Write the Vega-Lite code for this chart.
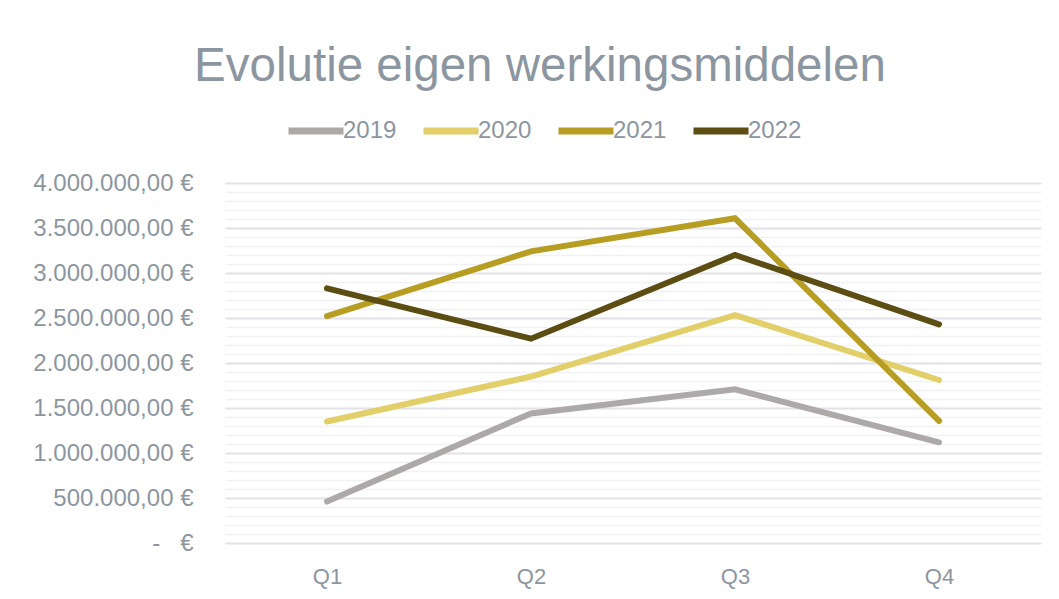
{
  "$schema": "https://vega.github.io/schema/vega-lite/v6.json",
  "width": 816,
  "height": 360,
  "autosize": "none",
  "padding": {"left": 225, "top": 183, "right": 18, "bottom": 56},
  "background": "white",
  "config": {
    "locale": {"number": {"decimal": ",", "thousands": ".", "grouping": [3], "currency": ["", " €"]}},
    "view": {"stroke": null},
    "font": "Liberation Sans"
  },
  "title": {
    "text": "Evolutie eigen werkingsmiddelen",
    "fontSize": 47.5,
    "font": "Liberation Sans",
    "fontWeight": "normal",
    "color": "#8C96A1",
    "anchor": "middle",
    "frame": "group",
    "dx": -93,
    "offset": 10
  },
  "data": {
    "values": [
      {"kwartaal": "Q1", "jaar": "2019", "bedrag": 460000},
      {"kwartaal": "Q2", "jaar": "2019", "bedrag": 1440000},
      {"kwartaal": "Q3", "jaar": "2019", "bedrag": 1708000},
      {"kwartaal": "Q4", "jaar": "2019", "bedrag": 1119000},
      {"kwartaal": "Q1", "jaar": "2020", "bedrag": 1350000},
      {"kwartaal": "Q2", "jaar": "2020", "bedrag": 1850000},
      {"kwartaal": "Q3", "jaar": "2020", "bedrag": 2533000},
      {"kwartaal": "Q4", "jaar": "2020", "bedrag": 1811000},
      {"kwartaal": "Q1", "jaar": "2021", "bedrag": 2520000},
      {"kwartaal": "Q2", "jaar": "2021", "bedrag": 3240000},
      {"kwartaal": "Q3", "jaar": "2021", "bedrag": 3608000},
      {"kwartaal": "Q4", "jaar": "2021", "bedrag": 1356000},
      {"kwartaal": "Q1", "jaar": "2022", "bedrag": 2830000},
      {"kwartaal": "Q2", "jaar": "2022", "bedrag": 2270000},
      {"kwartaal": "Q3", "jaar": "2022", "bedrag": 3200000},
      {"kwartaal": "Q4", "jaar": "2022", "bedrag": 2430000}
    ]
  },
  "resolve": {"axis": {"y": "independent"}},
  "layer": [
    {
      "mark": {"type": "rule", "opacity": 0},
      "encoding": {
        "y": {
          "field": "bedrag",
          "type": "quantitative",
          "scale": {"domain": [0, 4000000], "nice": false},
          "axis": {
            "orient": "left",
            "values": [100000, 200000, 300000, 400000, 600000, 700000, 800000, 900000, 1100000, 1200000, 1300000, 1400000, 1600000, 1700000, 1800000, 1900000, 2100000, 2200000, 2300000, 2400000, 2600000, 2700000, 2800000, 2900000, 3100000, 3200000, 3300000, 3400000, 3600000, 3700000, 3800000, 3900000],
            "grid": true,
            "gridColor": "#F1F1F3",
            "gridWidth": 1.5,
            "labels": false,
            "ticks": false,
            "domain": false,
            "title": null
          }
        }
      }
    },
    {
      "mark": {"type": "line", "strokeWidth": 6, "strokeCap": "round", "strokeJoin": "miter"},
      "encoding": {
        "x": {
          "field": "kwartaal",
          "type": "ordinal",
          "scale": {"type": "point", "padding": 0.5},
          "axis": {
            "title": null,
            "labelAngle": 0,
            "labelFontSize": 22,
            "labelColor": "#8C96A1",
            "labelPadding": 23,
            "ticks": false,
            "domain": false,
            "grid": false
          }
        },
        "y": {
          "field": "bedrag",
          "type": "quantitative",
          "scale": {"domain": [0, 4000000], "nice": false},
          "axis": {
            "orient": "left",
            "values": [0, 500000, 1000000, 1500000, 2000000, 2500000, 3000000, 3500000, 4000000],
            "labelExpr": "datum.value == 0 ? '-\u00a0\u00a0\u00a0€' : format(datum.value, ',.2f') + ' €'",
            "labelFontSize": 24,
            "labelColor": "#8C96A1",
            "labelPadding": 32,
            "grid": true,
            "gridColor": "#E2E2E8",
            "gridWidth": 2,
            "ticks": false,
            "domain": false,
            "title": null
          }
        },
        "color": {
          "field": "jaar",
          "type": "nominal",
          "scale": {"domain": ["2019", "2020", "2021", "2022"], "range": ["#ADA9A8", "#E3CF6A", "#B79D22", "#5C4D13"]},
          "legend": {
            "title": null,
            "orient": "none",
            "direction": "horizontal",
            "legendX": 60,
            "legendY": -83,
            "symbolType": "stroke",
            "symbolStrokeWidth": 7,
            "symbolSize": 3025,
            "labelFontSize": 24,
            "labelColor": "#8C96A1",
            "labelOffset": -4,
            "columnPadding": 12,
            "padding": 0
          }
        }
      }
    }
  ]
}
